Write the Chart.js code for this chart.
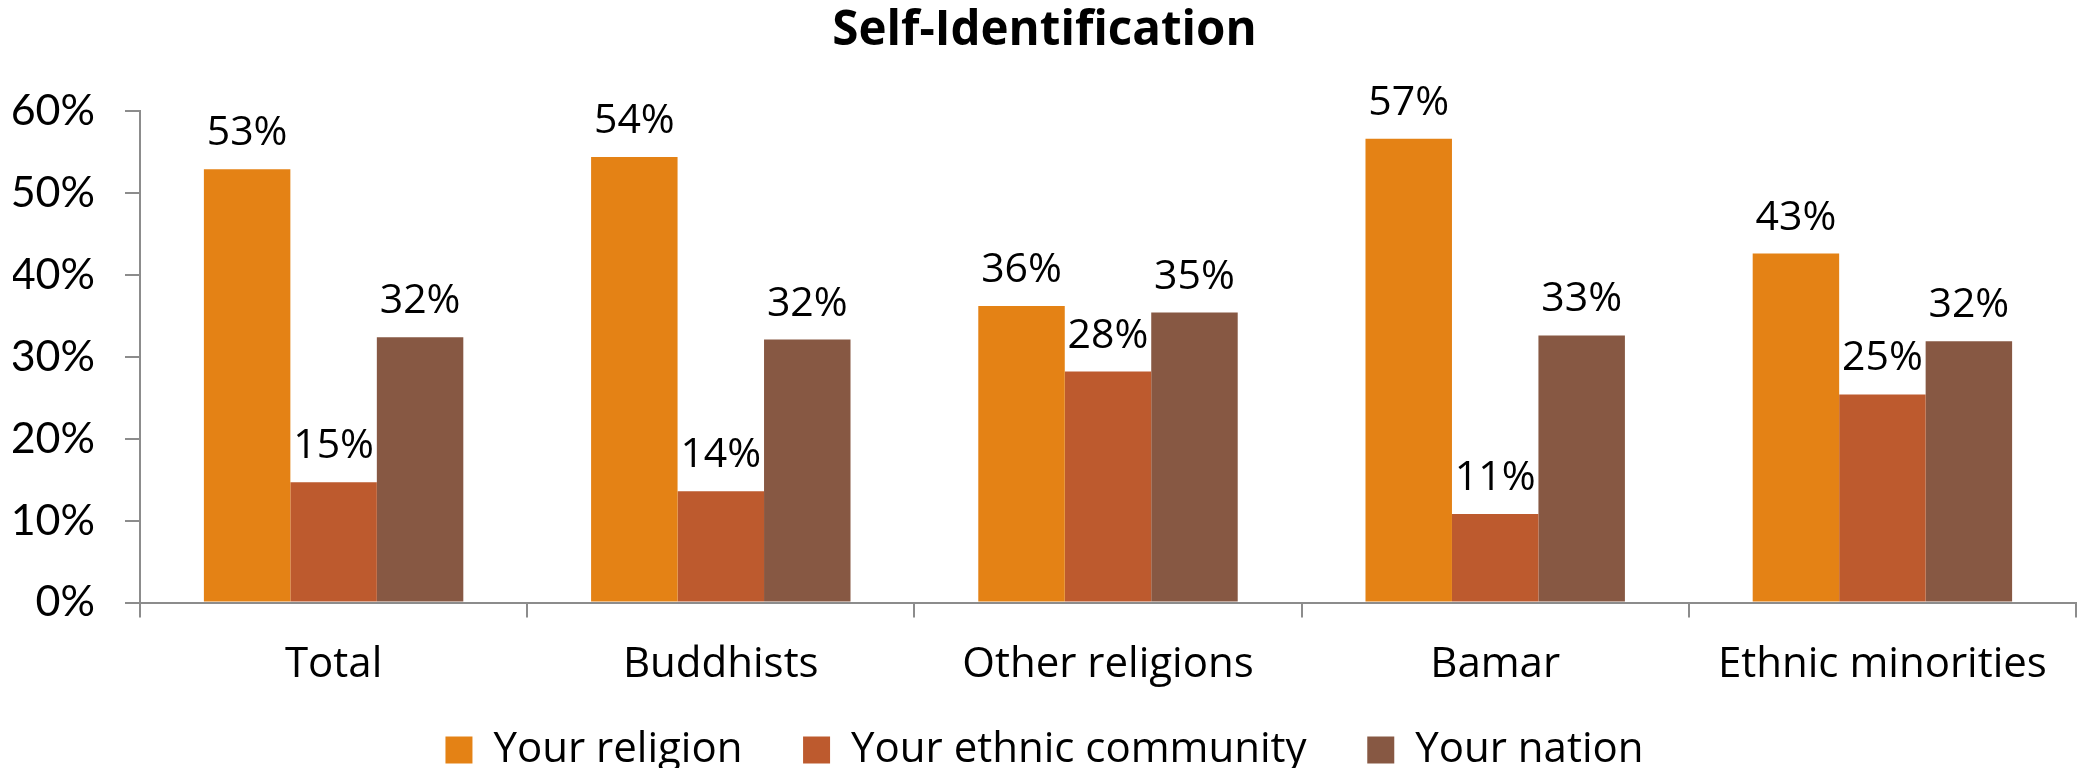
<!DOCTYPE html>
<html>
<head>
<meta charset="utf-8">
<title>Self-Identification</title>
<script src="https://cdn.jsdelivr.net/npm/chart.js@4.4.1/dist/chart.umd.min.js"></script>
<style>
    html, body { margin: 0; padding: 0; background: #fff; }
    #wrap { width: 2079px; height: 768px; }
</style>
</head>
<body>
<div id="wrap"><canvas id="selfIdChart" width="2079" height="768"></canvas></div>
<script>
const groups = ['Total', 'Buddhists', 'Other religions', 'Bamar', 'Ethnic minorities'];
const religion = [52.9, 54.4, 36.2, 56.6, 42.6];
const ethnicCommunity = [14.7, 13.6, 28.2, 10.8, 25.4];
const nation = [32.4, 32.1, 35.4, 32.6, 31.9];
const seriesNames = ['Your religion', 'Your ethnic community', 'Your nation'];
const seriesColors = ['#E48215', '#BD5A2E', '#875843'];
const yTicks = [0, 10, 20, 30, 40, 50, 60];

const axisGrey = '#8c8c8c';
const bodyFont = '"Open Sans", sans-serif';

// value labels above each bar
const barValueLabels = {
    id: 'barValueLabels',
    afterDatasetsDraw(chart) {
        const ctx = chart.ctx;
        ctx.save();
        ctx.font = '41px ' + bodyFont;
        ctx.fillStyle = '#000';
        ctx.textAlign = 'center';
        ctx.textBaseline = 'alphabetic';
        chart.data.datasets.forEach((ds, i) => {
            chart.getDatasetMeta(i).data.forEach((bar, j) => {
                ctx.fillText(Math.round(ds.data[j]) + '%', bar.x, bar.y - 24);
            });
        });
        ctx.restore();
    }
};

const datasets = [religion, ethnicCommunity, nation].map((values, i) => ({
    label: seriesNames[i],
    data: values,
    backgroundColor: seriesColors[i],
    borderWidth: 0,
    categoryPercentage: 0.67,
    barPercentage: 1.0
}));

// wider gaps between legend entries than labels.padding alone gives
const legendGap = '\u00a0'.repeat(4);

new Chart(document.getElementById('selfIdChart').getContext('2d'), {
    type: 'bar',
    data: { labels: groups, datasets: datasets },
    plugins: [barValueLabels],
    options: {
        responsive: false,
        animation: false,
        devicePixelRatio: 1,
        layout: { padding: { left: 13, right: 3, top: 0, bottom: -13 } },
        plugins: {
            title: {
                display: true,
                text: 'Self-Identification',
                color: '#000',
                font: { family: bodyFont, size: 47.5, weight: 'bold' },
                padding: { top: 3, bottom: 51 }
            },
            legend: {
                position: 'bottom',
                labels: {
                    color: '#000',
                    font: { family: bodyFont, size: 42 },
                    boxWidth: 27,
                    boxHeight: 27,
                    padding: 17,
                    generateLabels(chart) {
                        const items = Chart.defaults.plugins.legend.labels.generateLabels(chart);
                        return items.map((item, i) => Object.assign(item, {
                            text: i < items.length - 1 ? item.text + legendGap : item.text
                        }));
                    }
                }
            },
            tooltip: { enabled: false }
        },
        scales: {
            x: {
                grid: {
                    display: true,
                    drawOnChartArea: false,
                    drawTicks: true,
                    tickLength: 15,
                    tickColor: axisGrey,
                    lineWidth: 2,
                    offset: true
                },
                border: { display: true, color: axisGrey, width: 2 },
                ticks: {
                    color: '#000',
                    font: { family: bodyFont, size: 42 },
                    padding: 22,
                    maxRotation: 0
                }
            },
            y: {
                min: 0,
                max: 60,
                afterBuildTicks(scale) {
                    scale.ticks = yTicks.map(v => ({ value: v }));
                },
                afterFit(scale) {
                    scale.width = 127;
                },
                grid: {
                    display: true,
                    drawOnChartArea: false,
                    drawTicks: true,
                    tickLength: 15,
                    tickColor: axisGrey,
                    lineWidth: 2
                },
                border: { display: true, color: axisGrey, width: 2 },
                ticks: {
                    color: '#000',
                    font: { family: 'Lato, sans-serif', size: 43 },
                    padding: 30,
                    callback: v => v + '%'
                }
            }
        }
    }
});
</script>
</body>
</html>
